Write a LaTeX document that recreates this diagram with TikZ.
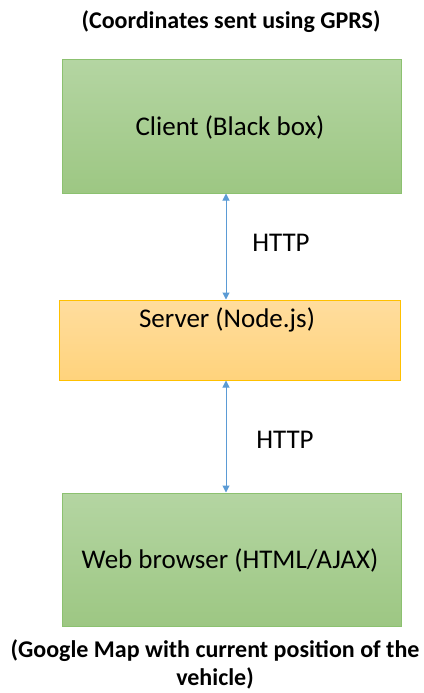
\documentclass[tikz,border=0pt]{standalone}
\usepackage{fontspec}
\setmainfont{Carlito}
\usetikzlibrary{arrows.meta}
\definecolor{gtop}{HTML}{B4D5A2}
\definecolor{gbot}{HTML}{9DC783}
\definecolor{gedge}{HTML}{8CC170}
\definecolor{otop}{HTML}{FFDD9E}
\definecolor{obot}{HTML}{FFD37C}
\definecolor{oedge}{HTML}{FFC000}
\definecolor{arr}{HTML}{5B9BD5}
\tikzset{
  greenbox/.style={draw=gedge, line width=1pt, top color=gtop, bottom color=gbot, minimum width=339pt, minimum height=133pt, inner sep=0pt},
  orangebox/.style={draw=oedge, line width=1pt, top color=otop, bottom color=obot, minimum width=341pt, minimum height=80pt, inner sep=0pt},
  link/.style={draw=arr, line width=1pt, {Triangle[length=7pt,width=7pt]}-{Triangle[length=7pt,width=7pt]}},
  lbl/.style={font=\fontsize{27}{32}\selectfont, inner sep=0pt},
  note/.style={font=\bfseries\fontsize{24}{28}\selectfont, inner sep=0pt, align=center}
}
\begin{document}
\begin{tikzpicture}[x=1pt,y=-1pt]
\useasboundingbox (0,0) rectangle (423,693);
\node[note] (title) at (231,22) {(Coordinates sent using GPRS)};
\node[greenbox] (client) at (231.5,126.5) {};
\node[lbl] (clientt) at (230,127) {Client (Black box)};
\node[orangebox] (server) at (229.5,340) {};
\node[lbl] (servert) at (227,320) {Server (Node.js)};
\node[greenbox] (web) at (231.5,559.5) {};
\node[lbl] (webt) at (230,560) {Web browser (HTML/AJAX)};
\coordinate (a1) at (226,193.5);
\coordinate (a2) at (226,299.5);
\coordinate (b1) at (226,380.5);
\coordinate (b2) at (226,492.5);
\draw[link] (a1) -- (a2);
\draw[link] (b1) -- (b2);
\node[lbl] (h1) at (281,243) {HTTP};
\node[lbl] (h2) at (285,440) {HTTP};
\node[note] (foot) at (215,664) {(Google Map with current position of the\\vehicle)};
\end{tikzpicture}
\end{document}
